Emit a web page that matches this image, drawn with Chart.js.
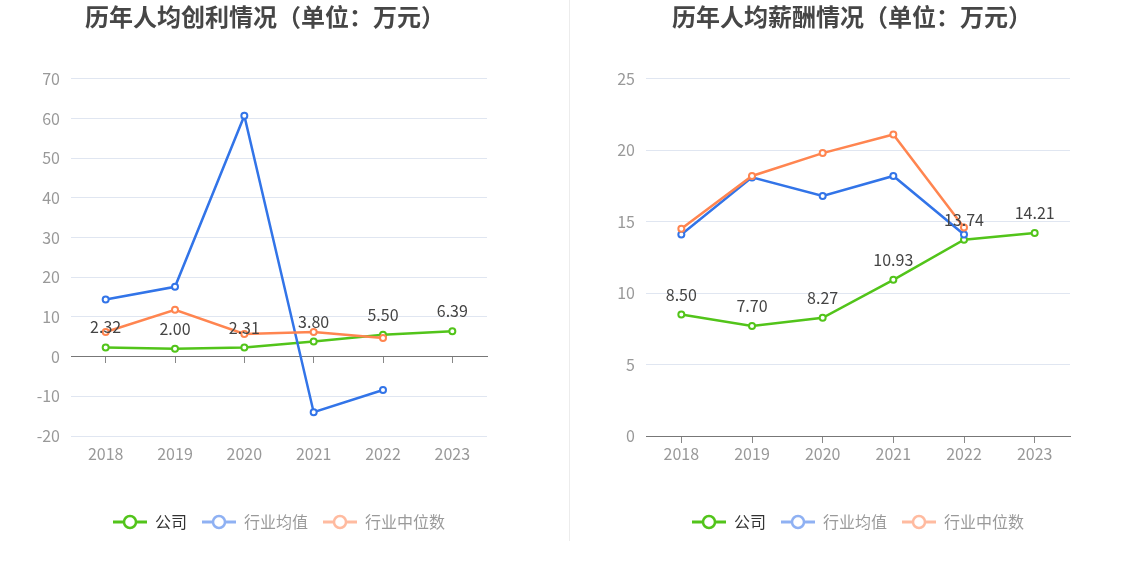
<!DOCTYPE html>
<html>
<head>
<meta charset="utf-8">
<script src="https://cdn.jsdelivr.net/npm/chart.js@4/dist/chart.umd.min.js"></script>
<style>
  html, body { margin: 0; padding: 0; background: #ffffff; }
  body { width: 1134px; height: 582px; position: relative; overflow: hidden; }
  .box { position: absolute; top: 0; height: 582px; }
  #divider { position: absolute; left: 569px; top: 0; width: 1px; height: 541px; background: #ececec; }
</style>
</head>
<body>
<div id="divider"></div>
<div class="box" style="left:0;width:530px;"><canvas id="c1" width="530" height="582"></canvas></div>
<div class="box" style="left:587px;width:530px;"><canvas id="c2" width="530" height="582"></canvas></div>
<script>
// ---- data ----
const years = ['2018', '2019', '2020', '2021', '2022', '2023'];
const seriesNames = ['公司', '行业均值', '行业中位数'];

const profitTitle = '历年人均创利情况（单位：万元）';
const profitCompany = [2.32, 2.00, 2.31, 3.80, 5.50, 6.39];
const profitIndustryAvg = [14.4, 17.6, 60.7, -14.0, -8.4, null];
const profitIndustryMedian = [6.2, 11.8, 5.7, 6.2, 4.7, null];
const profitTicks = { min: -20, max: 70, step: 10 };

const salaryTitle = '历年人均薪酬情况（单位：万元）';
const salaryCompany = [8.50, 7.70, 8.27, 10.93, 13.74, 14.21];
const salaryIndustryAvg = [14.1, 18.1, 16.8, 18.2, 14.1, null];
const salaryIndustryMedian = [14.5, 18.2, 19.8, 21.1, 14.6, null];
const salaryTicks = { min: 0, max: 25, step: 5 };

// ---- styles ----
const COLORS = ['#52c41a', '#3274e8', '#ff8550'];
const LEGEND_COLORS = ['#52c41a', '#8fb1f3', '#ffbba0'];
const LEGEND_TEXT = ['#333333', '#9a9a9a', '#9a9a9a'];
const FONT = '"Noto Sans CJK SC", "Noto Sans", sans-serif';

function legendIcon(color) {
  const c = document.createElement('canvas');
  c.width = 34; c.height = 16;
  const g = c.getContext('2d');
  g.strokeStyle = color; g.lineWidth = 3;
  g.beginPath(); g.moveTo(0, 8); g.lineTo(34, 8); g.stroke();
  g.beginPath(); g.arc(17, 8, 6, 0, Math.PI * 2);
  g.fillStyle = '#ffffff'; g.fill();
  g.lineWidth = 2.5; g.stroke();
  return c;
}
const icons = LEGEND_COLORS.map(legendIcon);

const labelPlugin = {
  id: 'valueLabels',
  afterDatasetsDraw(chart) {
    const ctx = chart.ctx;
    const meta = chart.getDatasetMeta(0);
    const ds = chart.data.datasets[0];
    ctx.save();
    ctx.font = '16px ' + FONT;
    ctx.fillStyle = '#444444';
    ctx.textAlign = 'center';
    ctx.textBaseline = 'bottom';
    meta.data.forEach((pt, i) => {
      const v = ds.data[i];
      if (v === null || v === undefined) return;
      ctx.fillText(v.toFixed(2), pt.x, pt.y - 12);
    });
    ctx.restore();
  }
};

function makeChart(id, title, company, avg, median, ticks, yWidth, rightWidth) {
  const series = [company, avg, median];
  const datasets = series.map((d, i) => ({
    label: seriesNames[i],
    data: d,
    borderColor: COLORS[i],
    backgroundColor: '#ffffff',
    pointBackgroundColor: '#ffffff',
    pointBorderColor: COLORS[i],
    pointBorderWidth: 2,
    pointRadius: 3,
    borderWidth: 2.5,
    tension: 0,
    spanGaps: false,
    order: 2 - i
  }));
  return new Chart(document.getElementById(id), {
    type: 'line',
    data: { labels: years, datasets },
    plugins: [labelPlugin],
    options: {
      responsive: false,
      animation: false,
      layout: { padding: { top: 0, left: 0, right: 0, bottom: 42 } },
      plugins: {
        title: {
          display: true,
          text: title,
          color: '#464646',
          font: { family: FONT, size: 24, weight: 'bold' },
          padding: { top: 2, bottom: 48 }
        },
        legend: {
          display: true,
          position: 'bottom',
          fullSize: false,
          labels: {
            usePointStyle: true,
            pointStyleWidth: 34,
            padding: 15,
            font: { family: FONT, size: 16 },
            generateLabels(chart) {
              return chart.data.datasets.map((ds, i) => ({
                text: ds.label,
                pointStyle: icons[i],
                fillStyle: LEGEND_COLORS[i],
                strokeStyle: LEGEND_COLORS[i],
                lineWidth: 0,
                fontColor: LEGEND_TEXT[i],
                hidden: false,
                datasetIndex: i
              }));
            }
          }
        },
        tooltip: { enabled: false }
      },
      scales: {
        x: {
          type: 'category',
          position: 'bottom',
          offset: true,
          grid: { display: false, drawTicks: false },
          border: { display: false },
          ticks: { color: '#999999', padding: 8, font: { family: FONT, size: 16 } },
          afterFit(s) { s.height = 63; }
        },
        x2: {
          type: 'category',
          labels: years,
          position: { y: 0 },
          offset: true,
          grid: { display: true, drawOnChartArea: false, drawTicks: true, tickLength: 6, color: '#888888', lineWidth: 1 },
          border: { display: true, color: '#777777', width: 1 },
          ticks: { display: false }
        },
        y: {
          position: 'left',
          min: ticks.min,
          max: ticks.max,
          ticks: { stepSize: ticks.step, color: '#999999', padding: 11, font: { family: FONT, size: 16 } },
          grid: { color: '#e0e6f1', lineWidth: 1, drawTicks: false },
          border: { display: false },
          afterFit(s) { s.width = yWidth; }
        },
        yRight: {
          position: 'right',
          display: true,
          grid: { display: false, drawOnChartArea: false, drawTicks: false },
          border: { display: false },
          ticks: { display: false },
          afterFit(s) { s.width = rightWidth; }
        }
      }
    }
  });
}

makeChart('c1', profitTitle, profitCompany, profitIndustryAvg, profitIndustryMedian, profitTicks, 71, 43);
makeChart('c2', salaryTitle, salaryCompany, salaryIndustryAvg, salaryIndustryMedian, salaryTicks, 59, 47);
</script>
</body>
</html>
